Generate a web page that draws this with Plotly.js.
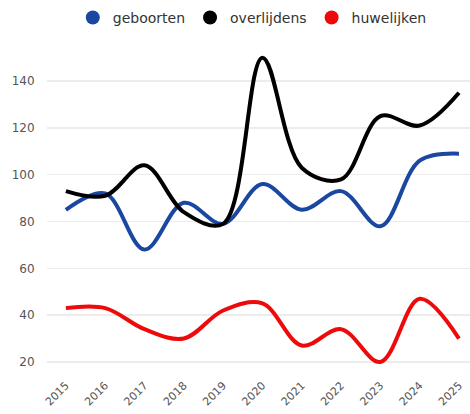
<!DOCTYPE html>
<html>
<head>
<meta charset="utf-8">
<script src="https://cdn.plot.ly/plotly-3.0.1.min.js"></script>
<style>html,body{margin:0;padding:0;background:#fff;}#chart{width:470px;height:414px;}</style>
</head>
<body>
<div id="chart"></div>
<script>
var years = [2015, 2016, 2017, 2018, 2019, 2020, 2021, 2022, 2023, 2024, 2025];
var geboorten = [85, 92, 68, 88, 79, 96, 85, 93, 78, 106, 109];
var overlijdens = [93, 91, 104, 84, 79, 150, 103, 98, 125, 121, 135];
var huwelijken = [43, 43, 34, 30, 42, 45, 27, 34, 20, 47, 30];
var seriesNames = ['geboorten', 'overlijdens', 'huwelijken'];
var seriesColors = ['#1a47a0', '#000000', '#ee0a0a'];
var seriesData = [geboorten, overlijdens, huwelijken];

var traces = [];
seriesData.forEach(function (d, i) {
  traces.push({
    x: years, y: d, type: 'scatter', mode: 'lines',
    line: {color: seriesColors[i], width: 4, shape: 'spline', smoothing: 1},
    showlegend: false, hoverinfo: 'x+y'
  });
});
seriesData.forEach(function (d, i) {
  traces.push({
    x: [null], y: [null], type: 'scatter', mode: 'markers',
    name: seriesNames[i],
    marker: {color: seriesColors[i], size: 14, symbol: 'circle'},
    showlegend: true
  });
});

var layout = {
  width: 470, height: 414,
  margin: {l: 47, r: 0, t: 46, b: 38},
  paper_bgcolor: '#fff', plot_bgcolor: '#fff',
  font: {family: 'DejaVu Sans, sans-serif', color: '#555', size: 12},
  showlegend: true,
  legend: {
    orientation: 'h', x: 0.061, xanchor: 'left', y: 1.085, yanchor: 'middle',
    font: {size: 14, color: '#333', family: 'DejaVu Sans, sans-serif'},
    itemwidth: 30, bgcolor: 'rgba(0,0,0,0)'
  },
  xaxis: {
    range: [2014.52, 2025.28],
    tickmode: 'array', tickvals: years, ticktext: years.map(String),
    tickangle: -45, showgrid: false, zeroline: false, showline: false,
    ticks: '', tickfont: {size: 11, color: '#555'}, fixedrange: true
  },
  yaxis: {
    range: [14, 155],
    tickvals: [20, 40, 60, 80, 100, 120, 140],
    showgrid: true, gridcolor: '#ececec', gridwidth: 1.5,
    zeroline: false, showline: false,
    ticks: 'outside', ticklen: 9, tickcolor: 'rgba(0,0,0,0)',
    tickfont: {size: 12, color: '#555'}, fixedrange: true
  }
};

Plotly.newPlot('chart', traces, layout, {displayModeBar: false, staticPlot: true});
</script>
</body>
</html>
